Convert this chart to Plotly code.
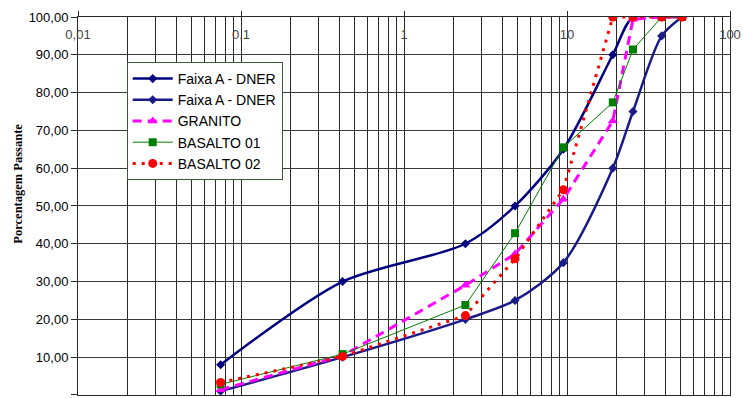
import plotly.graph_objects as go

# Sieve openings (mm)
sieves = [0.075, 0.42, 2.38, 4.8, 9.5, 19.1, 25.4, 38.1, 50.8]

faixa_sup = [8, 30, 40, 50, 65, 90, 100, 100, 100]
faixa_inf = [1, 10, 20, 25, 35, 60, 75, 95, 100]
granito = [1.4, 10.4, 29.0, 37.3, 51.8, 72.5, 99.4, 100, 100]
basalto01 = [2.8, 10.8, 23.8, 42.8, 65.5, 77.4, 91.4, 100, 100]
basalto02 = [3.3, 10.2, 21.0, 36.0, 54.3, 100, 100, 100, 100]

x_tickvals = [0.01, 0.1, 1, 10, 100]
x_ticktext = ["0,01", "0,1", "1", "10", "100"]
y_tickvals = [0, 10, 20, 30, 40, 50, 60, 70, 80, 90, 100]

minor_vals = [m * 10 ** e for e in range(-2, 2) for m in range(2, 10)]

fig = go.Figure()
fig.add_trace(go.Scatter(x=sieves, y=faixa_sup, name="Faixa A - DNER", mode="lines+markers",
                         line=dict(color="#000080", width=2.5, shape="spline", smoothing=0.8),
                         marker=dict(symbol="diamond", size=7, color="#000080")))
fig.add_trace(go.Scatter(x=sieves, y=faixa_inf, name="Faixa A - DNER", mode="lines+markers",
                         line=dict(color="#1a1a88", width=2.5, shape="spline", smoothing=0.8),
                         marker=dict(symbol="diamond", size=7, color="#1a1a88")))
fig.add_trace(go.Scatter(x=sieves, y=granito, name="GRANITO", mode="lines+markers",
                         line=dict(color="#ff00ff", width=3, dash="9px,6px"),
                         marker=dict(symbol="triangle-up", size=9, color="#ff00ff")))
fig.add_trace(go.Scatter(x=sieves, y=basalto01, name="BASALTO 01", mode="lines+markers",
                         line=dict(color="#008000", width=1),
                         marker=dict(symbol="square", size=8, color="#008000")))
fig.add_trace(go.Scatter(x=sieves, y=basalto02, name="BASALTO 02", mode="lines+markers",
                         line=dict(color="#ff0000", width=3, dash="3px,6px"),
                         marker=dict(symbol="circle", size=9, color="#ff0000")))

grid_col = "#2a2a2a"
fig.update_layout(
    width=743, height=398,
    margin=dict(l=78, r=9, t=17, b=2),
    paper_bgcolor="white", plot_bgcolor="white",
    separators=",.",
    font=dict(family="Liberation Sans, Arial, sans-serif", size=13, color="#000"),
    showlegend=True,
    legend=dict(x=0.0747, y=0.881, xanchor="left", yanchor="top",
                bgcolor="white", bordercolor="#3a5a3a", borderwidth=1,
                itemwidth=40,
                font=dict(size=14, color="#000"), tracegroupgap=0),
    xaxis=dict(type="log", range=[-2, 2], side="top",
               tickvals=x_tickvals, ticktext=x_ticktext,
               ticklabelposition="inside", ticklabeloverflow="allow",
               ticks="outside", ticklen=5, tickcolor=grid_col,
               ticklabelstandoff=13,
               showgrid=True, gridcolor=grid_col, gridwidth=1,
               minor=dict(tickvals=minor_vals, showgrid=True, gridcolor=grid_col, gridwidth=1, ticks=""),
               showline=True, linecolor=grid_col, linewidth=1, mirror=True,
               zeroline=False),
    yaxis=dict(range=[-0.02, 100], tickvals=y_tickvals, tickformat=".2f",
               ticks="outside", ticklen=6, tickcolor=grid_col,
               showgrid=True, gridcolor="#3a3a3a", gridwidth=1,
               showline=True, linecolor=grid_col, linewidth=1, mirror=True,
               zeroline=False),
)

fig.add_annotation(text="<b>Porcentagem Passante</b>", xref="paper", yref="paper",
                   x=-0.0915, y=0.56, xanchor="center", yanchor="middle",
                   textangle=-90, showarrow=False,
                   font=dict(family="Liberation Serif, Times New Roman, serif", size=12.5, color="#000"))

fig.write_html("out.html")
